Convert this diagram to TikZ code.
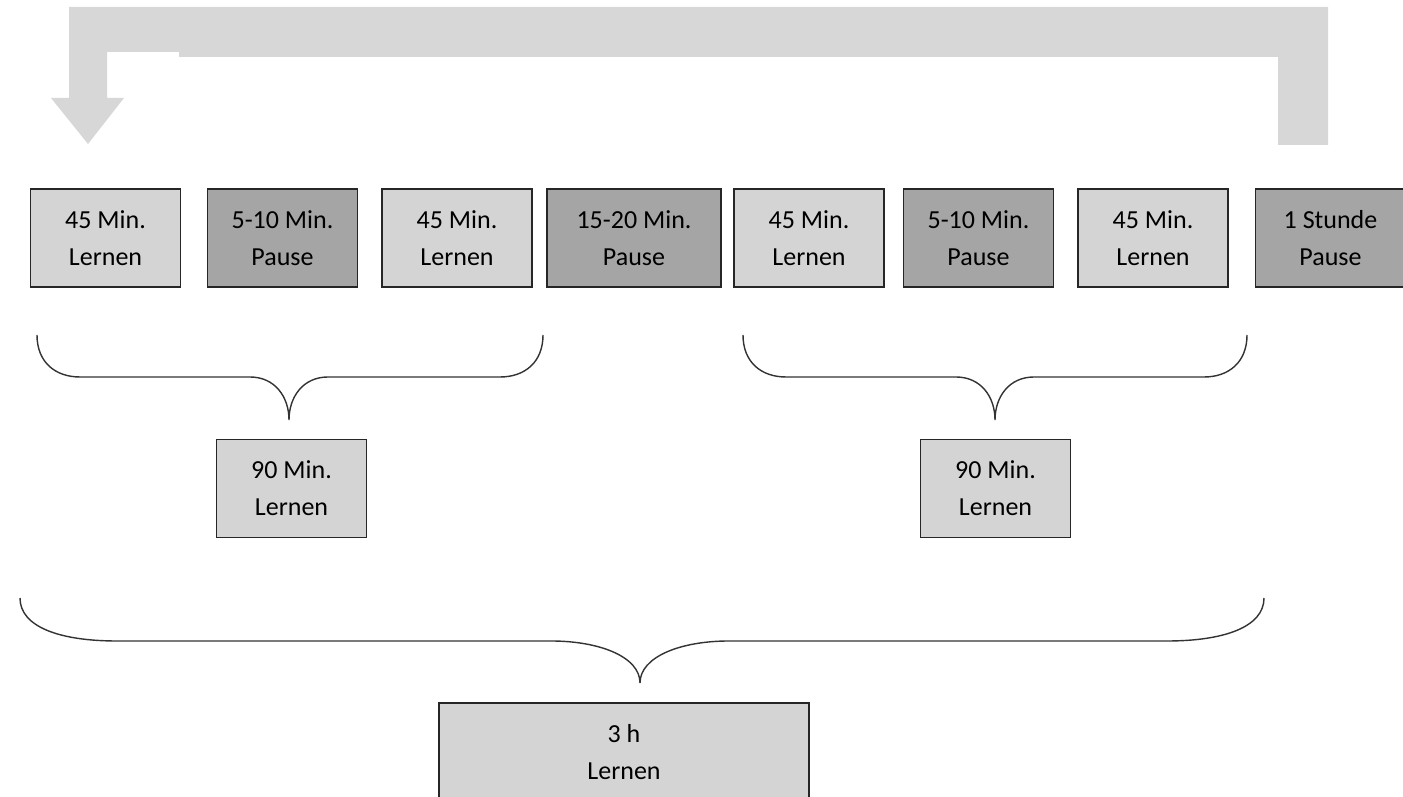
\documentclass[tikz,border=0pt]{standalone}
\usepackage{fontspec}
\setmainfont{Carlito}

\definecolor{lernfarbe}{RGB}{212,212,212}
\definecolor{pausefarbe}{RGB}{165,165,165}
\definecolor{pfeilfarbe}{RGB}{215,215,215}

\begin{document}
\begin{tikzpicture}[
  kasten/.style={draw=black!85, line width=1.1pt, minimum width=3cm,
    minimum height=1.96cm, align=center, inner sep=0pt,
    font=\fontsize{14.8}{21}\selectfont},
  lernen/.style={kasten, fill=lernfarbe},
  pause/.style={kasten, fill=pausefarbe},
  klammer/.style={line width=0.8pt, black!80}
]
\useasboundingbox (0,0) rectangle (28.06,15.94);

% Pfeil zurueck zum Anfang
\fill[pfeilfarbe] (26.56,13.04) -- (26.56,15.80) -- (1.38,15.80) -- (1.38,13.98)
  -- (1.02,13.98) -- (1.76,13.06) -- (2.48,13.98) -- (2.14,13.98) -- (2.14,14.90)
  -- (3.58,14.90) -- (3.58,14.80) -- (25.56,14.80) -- (25.56,13.04) -- cycle;

% Erster Block
\node[lernen] (l1) at (2.11,11.18) {45 Min.\\Lernen};
\node[pause] (p1) at (5.65,11.18) {5-10 Min.\\Pause};
\node[lernen] (l2) at (9.14,11.18) {45 Min.\\Lernen};

% Lange Pause
\node[pause, minimum width=3.48cm] (p2) at (12.68,11.18) {15-20 Min.\\Pause};

% Zweiter Block
\node[lernen] (l3) at (16.18,11.18) {45 Min.\\Lernen};
\node[pause] (p3) at (19.57,11.18) {5-10 Min.\\Pause};
\node[lernen] (l4) at (23.06,11.18) {45 Min.\\Lernen};

% Stunde Pause
\node[pause] (p4) at (26.61,11.18) {1 Stunde\\Pause};

% Klammer erster Block
\draw[klammer] (0.74,9.24) .. controls (0.74,8.70) and (1.10,8.40) .. (1.60,8.40)
  -- (5.00,8.40) .. controls (5.50,8.40) and (5.78,8.00) .. (5.78,7.54)
  .. controls (5.78,8.00) and (6.06,8.40) .. (6.56,8.40)
  -- (10.00,8.40) .. controls (10.50,8.40) and (10.86,8.70) .. (10.86,9.24);
\node[lernen] (s1) at (5.83,6.17) {90 Min.\\Lernen};

% Klammer zweiter Block
\draw[klammer] (14.86,9.24) .. controls (14.86,8.70) and (15.22,8.40) .. (15.72,8.40)
  -- (19.12,8.40) .. controls (19.62,8.40) and (19.90,8.00) .. (19.90,7.54)
  .. controls (19.90,8.00) and (20.18,8.40) .. (20.68,8.40)
  -- (24.08,8.40) .. controls (24.58,8.40) and (24.94,8.70) .. (24.94,9.24);
\node[lernen] (s2) at (19.91,6.17) {90 Min.\\Lernen};

% Gesamt
\draw[klammer] (0.40,3.98) .. controls (0.40,3.40) and (1.20,3.12) .. (2.34,3.12)
  -- (11.02,3.12) .. controls (12.00,3.12) and (12.80,2.80) .. (12.80,2.28)
  .. controls (12.80,2.80) and (13.60,3.12) .. (14.58,3.12)
  -- (23.34,3.12) .. controls (24.48,3.12) and (25.28,3.40) .. (25.28,3.98);
\node[lernen, minimum width=7.4cm] (ges) at (12.48,0.90) {3 h\\Lernen};

\end{tikzpicture}
\end{document}
